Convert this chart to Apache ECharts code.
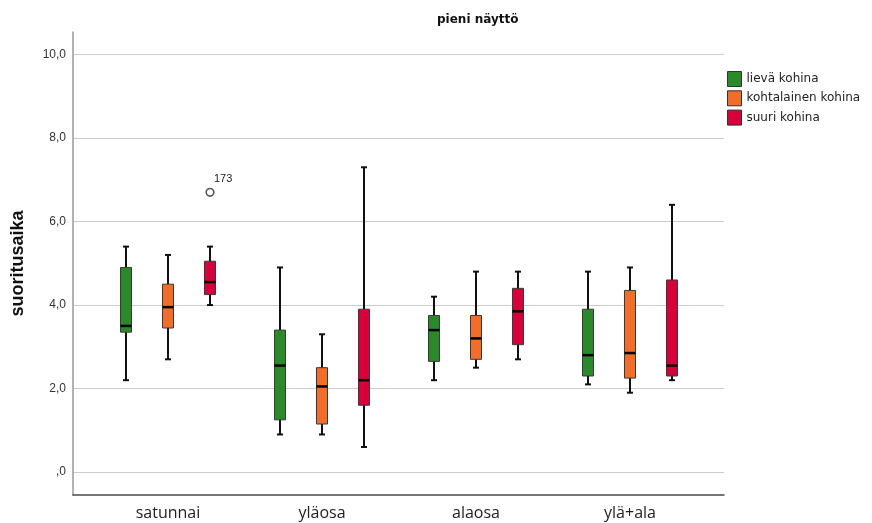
<!DOCTYPE html>
<html>
<head>
<meta charset="utf-8">
<script src="https://cdn.jsdelivr.net/npm/echarts@6/dist/echarts.min.js"></script>
<style>
  html, body { margin: 0; padding: 0; background: #fff; }
  #chart { width: 872px; height: 523px; }
</style>
</head>
<body>
<div id="chart"></div>
<script>
// Groups on the x axis
const categories = ['satunnai', 'yläosa', 'alaosa', 'ylä+ala'];

// Box statistics per group: [min whisker, Q1, median, Q3, max whisker]
const lievaKohina = [
  [2.2, 3.35, 3.5, 4.9, 5.4],
  [0.9, 1.25, 2.55, 3.4, 4.9],
  [2.2, 2.65, 3.4, 3.75, 4.2],
  [2.1, 2.3, 2.8, 3.9, 4.8]
];
const kohtalainenKohina = [
  [2.7, 3.45, 3.95, 4.5, 5.2],
  [0.9, 1.15, 2.05, 2.5, 3.3],
  [2.5, 2.7, 3.2, 3.75, 4.8],
  [1.9, 2.25, 2.85, 4.35, 4.9]
];
const suuriKohina = [
  [4.0, 4.25, 4.55, 5.05, 5.4],
  [0.6, 1.6, 2.2, 3.9, 7.3],
  [2.7, 3.05, 3.85, 4.4, 4.8],
  [2.2, 2.3, 2.55, 4.6, 6.4]
];

// Outliers: [group index, series index, value, case label]
const outliers = [
  [0, 2, 6.7, '173']
];

// Y axis tick values
const yTicks = [0, 2, 4, 6, 8, 10];

const seriesNames = ['lievä kohina', 'kohtalainen kohina', 'suuri kohina'];
const seriesColors = ['#2a8a2a', '#f26c2a', '#d8003a'];
const seriesData = [lievaKohina, kohtalainenKohina, suuriKohina];

const Y_MIN = -0.55, Y_MAX = 10.54;
const BOX_STEP = 42;   // horizontal distance between boxes in one group
const BOX_HALF = 5.5;  // half box width
const CAP_HALF = 3;    // half whisker cap width

function fmt(v) {
  return v === 0 ? ',0' : v.toFixed(1).replace('.', ',');
}

function boxRenderer(seriesIdx) {
  return function (params, api) {
    const cat = api.value(0);
    const x = api.coord([cat, 0])[0] + (seriesIdx - 1) * BOX_STEP;
    const yLo = api.coord([cat, api.value(1)])[1];
    const yQ1 = api.coord([cat, api.value(2)])[1];
    const yMed = api.coord([cat, api.value(3)])[1];
    const yQ3 = api.coord([cat, api.value(4)])[1];
    const yHi = api.coord([cat, api.value(5)])[1];
    const line = { stroke: '#111', lineWidth: 2 };
    return {
      type: 'group',
      children: [
        { type: 'line', shape: { x1: x, y1: yHi, x2: x, y2: yLo }, style: line },
        { type: 'line', shape: { x1: x - CAP_HALF, y1: yHi, x2: x + CAP_HALF, y2: yHi }, style: line },
        { type: 'line', shape: { x1: x - CAP_HALF, y1: yLo, x2: x + CAP_HALF, y2: yLo }, style: line },
        {
          type: 'rect',
          shape: { x: x - BOX_HALF, y: yQ3, width: BOX_HALF * 2, height: yQ1 - yQ3 },
          style: { fill: seriesColors[seriesIdx], stroke: '#3a3a3a', lineWidth: 1 }
        },
        { type: 'line', shape: { x1: x - BOX_HALF, y1: yMed, x2: x + BOX_HALF, y2: yMed }, style: { stroke: '#000', lineWidth: 2.5 } }
      ]
    };
  };
}

const boxSeries = seriesData.map(function (rows, i) {
  return {
    name: seriesNames[i],
    type: 'custom',
    xAxisIndex: 1,
    yAxisIndex: 1,
    itemStyle: { color: seriesColors[i] },
    renderItem: boxRenderer(i),
    encode: { x: 0, y: [1, 2, 3, 4, 5] },
    data: rows.map(function (r, c) { return [c].concat(r); }),
    z: 3
  };
});

const outlierSeries = {
  type: 'custom',
  xAxisIndex: 1,
  yAxisIndex: 1,
  renderItem: function (params, api) {
    const cat = api.value(0);
    const x = api.coord([cat, 0])[0] + (api.value(1) - 1) * BOX_STEP;
    const y = api.coord([cat, api.value(2)])[1];
    return {
      type: 'group',
      children: [
        { type: 'circle', shape: { cx: x, cy: y, r: 3.8 }, style: { fill: '#fff', stroke: '#555', lineWidth: 1.6 } },
        {
          type: 'text',
          x: x + 4, y: y - 8,
          style: {
            text: outliers[params.dataIndex][3],
            fill: '#222', fontSize: 11, fontFamily: 'Liberation Sans, Arial, sans-serif',
            verticalAlign: 'bottom', align: 'left'
          }
        }
      ]
    };
  },
  encode: { x: 0, y: 2 },
  data: outliers.map(function (o) { return [o[0], o[1], o[2]]; }),
  z: 4
};

const chart = echarts.init(document.getElementById('chart'), null, { renderer: 'canvas' });

chart.setOption({
  animation: false,
  backgroundColor: '#fff',
  title: {
    text: 'pieni näyttö',
    left: 437,
    top: 14,
    padding: 0,
    textStyle: { fontSize: 12, fontWeight: 'bold', color: '#111', fontFamily: 'DejaVu Sans, sans-serif' }
  },
  legend: {
    orient: 'vertical',
    left: 727,
    top: 71,
    padding: 0,
    itemWidth: 14,
    itemHeight: 15,
    itemGap: 3.3,
    icon: 'rect',
    textStyle: { fontSize: 12, color: '#222', fontFamily: 'DejaVu Sans, sans-serif' },
    data: seriesNames.map(function (n, i) {
      return { name: n, itemStyle: { color: seriesColors[i], borderColor: '#333', borderWidth: 1 } };
    })
  },
  grid: [
    { left: 73, right: 148, top: 32, bottom: 28 },
    { left: 91, right: 165, top: 32, bottom: 28 }
  ],
  xAxis: [
    {
      type: 'category',
      gridIndex: 0,
      data: [''],
      axisLine: { onZero: false, lineStyle: { color: '#4a4a4a', width: 1.5 } },
      axisTick: { show: false },
      axisLabel: { show: false },
      splitLine: { show: false }
    },
    {
      type: 'category',
      gridIndex: 1,
      data: categories,
      axisLine: { show: false },
      axisTick: { show: false },
      axisLabel: { margin: 10, fontSize: 16, color: '#222', fontFamily: 'Open Sans, sans-serif' },
      splitLine: { show: false }
    }
  ],
  yAxis: [
    {
      type: 'value',
      gridIndex: 0,
      min: Y_MIN,
      max: Y_MAX,
      name: 'suoritusaika',
      nameLocation: 'middle',
      nameGap: 46,
      nameRotate: 90,
      nameTextStyle: { fontSize: 18, fontWeight: 'bold', color: '#111', fontFamily: 'Liberation Sans, Arial, sans-serif' },
      axisLine: { show: true, lineStyle: { color: '#9a9a9a', width: 1.5 } },
      axisTick: { show: false, customValues: yTicks },
      axisLabel: {
        customValues: yTicks,
        margin: 7,
        fontSize: 12,
        color: '#333',
        fontFamily: 'Liberation Sans, Arial, sans-serif',
        formatter: fmt
      },
      splitLine: { show: true, lineStyle: { color: '#cccccc', width: 1.2 } }
    },
    {
      type: 'value',
      gridIndex: 1,
      min: Y_MIN,
      max: Y_MAX,
      show: false,
      splitLine: { show: false }
    }
  ],
  series: boxSeries.concat([outlierSeries])
});
</script>
</body>
</html>
